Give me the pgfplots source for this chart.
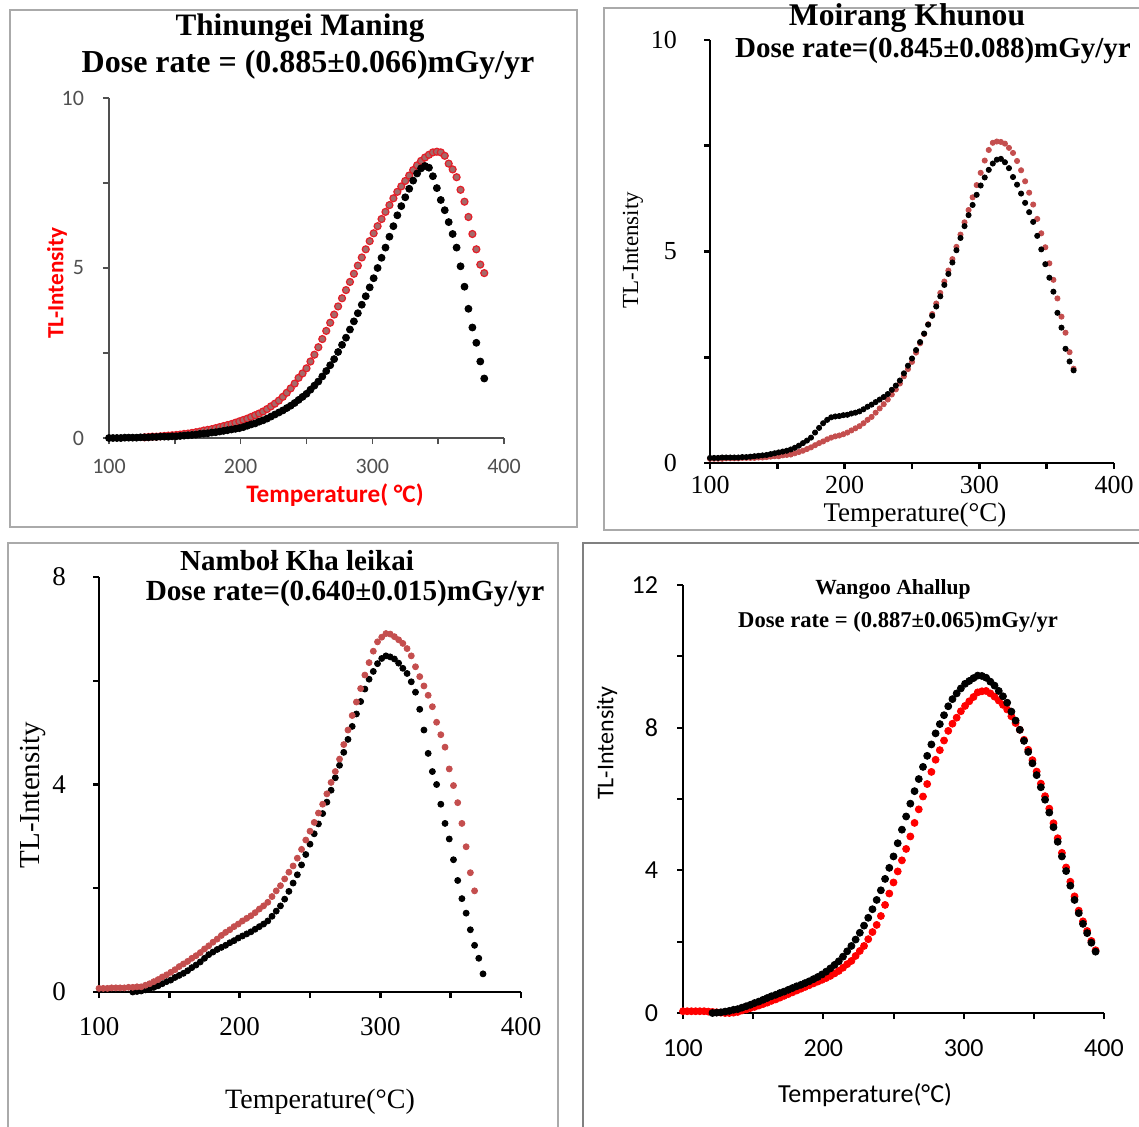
\documentclass[border=0pt]{standalone}
\usepackage{fontspec}
\setmainfont{Liberation Serif}
\newfontfamily\calib{Carlito}
\usepackage{pgfplots}
\usepackage{pgfplotstable}
\pgfplotsset{compat=1.18}

\definecolor{tlred}{RGB}{196,78,78}
\definecolor{ringred}{RGB}{228,30,40}
\definecolor{ringfill}{RGB}{165,105,105}
\definecolor{framegray}{RGB}{170,170,170}
\definecolor{ticktxt}{RGB}{80,80,80}

% T  black  red
\pgfplotstableread{
T k r
100 0.00 nan
103 0.00 nan
106 0.00 nan
109 0.00 nan
112 0.01 nan
115 0.01 nan
118 0.01 nan
121 0.01 nan
124 0.02 nan
127 0.02 0.02
130 0.02 0.03
133 0.03 0.04
136 0.03 0.04
139 0.04 0.05
142 0.04 0.06
145 0.04 0.07
148 0.05 0.08
151 0.05 0.09
154 0.06 0.10
157 0.07 0.12
160 0.08 0.13
163 0.09 0.15
166 0.10 0.17
169 0.12 0.19
172 0.13 0.22
175 0.14 0.24
178 0.16 0.26
181 0.17 0.29
184 0.19 0.32
187 0.21 0.35
190 0.23 0.38
193 0.25 0.41
196 0.27 0.45
199 0.29 0.49
202 0.32 0.53
205 0.36 0.57
208 0.40 0.62
211 0.43 0.67
214 0.48 0.72
217 0.52 0.78
220 0.57 0.85
223 0.63 0.93
226 0.69 1.01
229 0.75 1.10
232 0.81 1.21
235 0.88 1.33
238 0.95 1.46
241 1.03 1.60
244 1.12 1.77
247 1.21 1.90
250 1.30 2.05
253 1.42 2.25
256 1.54 2.45
259 1.66 2.67
262 1.81 2.91
265 1.97 3.15
268 2.14 3.39
271 2.32 3.63
274 2.53 3.87
277 2.74 4.11
280 2.95 4.35
283 3.19 4.59
286 3.43 4.83
289 3.67 5.07
292 3.92 5.31
295 4.17 5.55
298 4.43 5.79
301 4.70 6.02
304 5.00 6.23
307 5.30 6.44
310 5.60 6.65
313 5.92 6.85
316 6.23 7.05
319 6.55 7.24
322 6.82 7.40
325 7.08 7.56
328 7.33 7.72
331 7.57 7.88
334 7.78 8.02
337 7.93 8.15
340 8.00 8.25
343 7.95 8.33
346 7.70 8.40
349 7.35 8.42
352 7.00 8.40
355 6.70 8.30
358 6.35 8.07
361 6.00 7.90
364 5.60 7.67
367 5.05 7.30
370 4.45 6.95
373 3.80 6.50
376 3.25 6.00
379 2.80 5.55
382 2.25 5.10
385 1.75 4.85
}\thinungei

\pgfplotstableread{
T k r
100 0.12 0.10
103 0.12 0.10
106 0.12 0.10
109 0.13 0.10
112 0.13 0.11
115 0.13 0.11
118 0.13 0.11
121 0.13 0.11
124 0.14 0.12
127 0.14 0.12
130 0.15 0.12
133 0.16 0.12
136 0.17 0.13
139 0.18 0.13
142 0.19 0.14
145 0.21 0.15
148 0.23 0.16
151 0.25 0.16
154 0.27 0.18
157 0.29 0.19
160 0.32 0.20
163 0.36 0.23
166 0.41 0.26
169 0.47 0.29
172 0.53 0.33
175 0.60 0.37
178 0.72 0.42
181 0.83 0.47
184 0.94 0.51
187 1.02 0.56
190 1.08 0.60
193 1.10 0.63
196 1.11 0.65
199 1.13 0.68
202 1.14 0.72
205 1.17 0.77
208 1.19 0.82
211 1.22 0.87
214 1.27 0.94
217 1.33 1.02
220 1.38 1.09
223 1.44 1.19
226 1.50 1.29
229 1.56 1.39
232 1.63 1.50
235 1.73 1.62
238 1.83 1.74
241 1.95 1.88
244 2.12 2.05
247 2.30 2.22
250 2.47 2.39
253 2.67 2.61
256 2.86 2.83
259 3.06 3.05
262 3.27 3.28
265 3.48 3.52
268 3.70 3.77
271 3.94 4.02
274 4.21 4.29
277 4.47 4.55
280 4.74 4.82
283 5.03 5.11
286 5.32 5.40
289 5.60 5.69
292 5.86 5.98
295 6.10 6.28
298 6.34 6.57
301 6.56 6.86
304 6.75 7.15
307 6.93 7.40
310 7.08 7.57
313 7.17 7.60
316 7.19 7.59
319 7.11 7.55
322 6.97 7.45
325 6.76 7.33
328 6.58 7.14
331 6.37 6.92
334 6.15 6.66
337 5.93 6.39
340 5.70 6.11
343 5.37 5.77
346 5.05 5.43
349 4.70 5.10
352 4.38 4.72
355 4.05 4.33
358 3.55 3.89
361 3.20 3.46
364 2.70 3.08
367 2.40 2.62
370 2.19 2.23
}\moirang

\pgfplotstableread{
T k r
100 nan 0.07
103 nan 0.07
106 nan 0.07
109 nan 0.08
112 nan 0.08
115 nan 0.08
118 nan 0.08
121 nan 0.09
124 0.00 0.09
127 0.01 0.10
130 0.02 0.10
133 0.04 0.13
136 0.06 0.16
139 0.09 0.20
142 0.12 0.24
145 0.16 0.29
148 0.20 0.33
151 0.23 0.38
154 0.28 0.43
157 0.32 0.49
160 0.36 0.54
163 0.41 0.59
166 0.47 0.65
169 0.52 0.70
172 0.58 0.76
175 0.65 0.83
178 0.72 0.89
181 0.77 0.96
184 0.82 1.02
187 0.86 1.09
190 0.90 1.15
193 0.95 1.20
196 0.99 1.26
199 1.04 1.31
202 1.08 1.37
205 1.12 1.42
208 1.16 1.47
211 1.21 1.53
214 1.26 1.60
217 1.31 1.66
220 1.37 1.73
223 1.46 1.84
226 1.56 1.95
229 1.66 2.05
232 1.79 2.18
235 1.94 2.31
238 2.10 2.43
241 2.26 2.58
244 2.45 2.75
247 2.65 2.93
250 2.85 3.10
253 3.05 3.27
256 3.24 3.45
259 3.44 3.62
262 3.66 3.82
265 3.89 4.04
268 4.13 4.25
271 4.37 4.49
274 4.62 4.77
277 4.87 5.05
280 5.12 5.33
283 5.36 5.59
286 5.60 5.85
289 5.84 6.11
292 6.03 6.35
295 6.18 6.57
298 6.33 6.75
301 6.43 6.84
304 6.48 6.91
307 6.46 6.90
310 6.42 6.85
313 6.34 6.79
316 6.24 6.72
319 6.14 6.62
322 5.98 6.48
325 5.78 6.27
328 5.45 6.08
331 5.05 5.90
334 4.60 5.72
337 4.25 5.50
340 4.00 5.20
343 3.62 4.96
346 3.25 4.72
349 2.95 4.30
352 2.55 3.98
355 2.15 3.65
358 1.80 3.25
361 1.52 2.80
364 1.20 2.30
367 0.90 1.95
370 0.65 nan
373 0.35 nan
}\nambol

\pgfplotstableread{
T k r
100 nan 0.05
103 nan 0.05
106 nan 0.05
109 nan 0.05
112 nan 0.05
115 nan 0.05
118 nan 0.04
121 0.00 0.03
124 0.01 0.02
127 0.02 0.01
130 0.04 0.00
133 0.06 0.00
136 0.09 0.01
139 0.11 0.03
142 0.15 0.07
145 0.19 0.10
148 0.23 0.14
151 0.28 0.17
154 0.32 0.21
157 0.37 0.25
160 0.42 0.29
163 0.47 0.34
166 0.51 0.38
169 0.56 0.43
172 0.60 0.48
175 0.65 0.53
178 0.70 0.58
181 0.75 0.63
184 0.79 0.68
187 0.84 0.73
190 0.89 0.78
193 0.95 0.83
196 1.01 0.88
199 1.08 0.93
202 1.16 0.98
205 1.25 1.04
208 1.35 1.11
211 1.45 1.18
214 1.58 1.27
217 1.73 1.37
220 1.88 1.46
223 2.06 1.60
226 2.25 1.74
229 2.45 1.88
232 2.67 2.07
235 2.91 2.27
238 3.17 2.47
241 3.44 2.72
244 3.76 3.03
247 4.07 3.35
250 4.39 3.66
253 4.76 3.97
256 5.14 4.28
259 5.51 4.60
262 5.87 4.95
265 6.22 5.33
268 6.56 5.71
271 6.90 6.07
274 7.21 6.42
277 7.53 6.76
280 7.84 7.10
283 8.10 7.37
286 8.35 7.64
289 8.60 7.91
292 8.80 8.11
295 8.96 8.28
298 9.10 8.46
301 9.23 8.61
304 9.31 8.74
307 9.39 8.86
310 9.46 8.99
313 9.45 9.02
316 9.40 9.03
319 9.29 8.96
322 9.18 8.87
325 9.03 8.76
328 8.88 8.64
331 8.70 8.51
334 8.45 8.32
337 8.20 8.13
340 7.94 7.94
343 7.63 7.66
346 7.32 7.38
349 7.00 7.09
352 6.67 6.77
355 6.33 6.43
358 5.98 6.08
361 5.62 5.73
364 5.21 5.32
367 4.80 4.90
370 4.39 4.49
373 3.98 4.08
376 3.57 3.68
379 3.17 3.27
382 2.80 2.87
385 2.50 2.57
388 2.24 2.30
391 1.97 2.02
394 1.72 1.76
}\wangoo

\pgfplotsset{
  tlbase/.style={
    scale only axis, axis lines=left, axis line style={-}, tick align=outside,
    clip=false, xmin=100, xmax=400, ymin=0,
    xtick={100,150,...,400}, xticklabels={100,,200,,300,,400},
    major tick length=3pt,
  },
}

\begin{document}
\begin{tikzpicture}
\clip (0,0) rectangle (569.5pt,563pt);
\path[use as bounding box] (0,0) rectangle (569.5pt,563pt);

% panel frames
\draw[framegray, line width=0.8pt] (5pt,558pt) rectangle (288.5pt,299.5pt);
\draw[framegray, line width=0.8pt] (302pt,559pt) rectangle (575pt,298pt);
\draw[framegray, line width=0.8pt] (4pt,291.5pt) rectangle (279pt,-5pt);
\draw[gray, line width=1pt] (291.5pt,291.5pt) rectangle (575pt,-5pt);

% Thinungei Maning
\begin{axis}[tlbase, at={(54.5pt,344pt)}, anchor=south west,
  width=197.5pt, height=170pt, ymax=10,
  ytick={0,2.5,...,10}, yticklabels={0,,5,,10},
  axis line style={draw=ticktxt, line width=0.7pt},
  every tick/.style={draw=ticktxt, line width=0.7pt},
  ticklabel style={font=\calib\fontsize{11}{11}\selectfont, text=ticktxt},
  yticklabel style={xshift=-6pt}, xticklabel style={yshift=-4pt}]
\addplot[only marks, mark=*, mark size=1.75pt, mark options={draw=ringred, fill=ringfill, line width=0.6pt}] table[x=T, y=r] {\thinungei};
\addplot[only marks, mark=*, mark size=1.75pt, black] table[x=T, y=k] {\thinungei};
\end{axis}
\node[font=\bfseries\fontsize{15.6}{16}\selectfont] at (150pt,549pt) {Thinungei Maning};
\node[font=\bfseries\fontsize{16}{16}\selectfont] at (154pt,530.5pt) {Dose rate = (0.885±0.066)mGy/yr};
\node[rotate=90, text=red, font=\calib\bfseries\fontsize{11.6}{12}\selectfont] at (28.5pt,421.5pt) {TL-Intensity};
\node[text=red, font=\calib\bfseries\fontsize{12.6}{13}\selectfont] at (167.5pt,315.5pt) {Temperature( °C)};

% Moirang Khunou
\begin{axis}[tlbase, at={(355pt,331.5pt)}, anchor=south west,
  width=202pt, height=211.5pt, ymax=10,
  ytick={0,2.5,...,10}, yticklabels={0,,5,,10},
  axis line style={line width=1.4pt},
  every tick/.style={line width=1.4pt},
  ticklabel style={font=\fontsize{13}{13}\selectfont},
  yticklabel style={xshift=-10pt}, xticklabel style={yshift=0pt}]
\addplot[only marks, mark=*, mark size=1.3pt, tlred] table[x=T, y=r] {\moirang};
\addplot[only marks, mark=*, mark size=1.3pt, black] table[x=T, y=k] {\moirang};
\end{axis}
\node[font=\bfseries\fontsize{15.8}{16}\selectfont] at (453.5pt,554pt) {Moirang Khunou};
\node[font=\bfseries\fontsize{14.5}{15}\selectfont] at (466.5pt,537.5pt) {Dose rate=(0.845±0.088)mGy/yr};
\node[rotate=90, font=\fontsize{11.5}{12}\selectfont] at (316.5pt,438pt) {TL-Intensity};
\node[font=\fontsize{13.5}{14}\selectfont] at (457.5pt,305.5pt) {Temperature(°C)};

% Nambol Kha leikai
\begin{axis}[tlbase, at={(49.5pt,67pt)}, anchor=south west,
  width=211pt, height=207.5pt, ymax=8,
  ytick={0,2,...,8}, yticklabels={0,,4,,8},
  axis line style={line width=1.2pt},
  every tick/.style={line width=1.2pt},
  ticklabel style={font=\fontsize{13.5}{14}\selectfont},
  yticklabel style={xshift=-10pt}, xticklabel style={yshift=-6pt}]
\addplot[only marks, mark=*, mark size=1.5pt, black] table[x=T, y=k] {\nambol};
\addplot[only marks, mark=*, mark size=1.5pt, tlred] table[x=T, y=r] {\nambol};
\end{axis}
\node[font=\bfseries\fontsize{14.5}{15}\selectfont] at (148.5pt,282.5pt) {Namboł Kha leikai};
\node[font=\bfseries\fontsize{14.6}{15}\selectfont] at (172.5pt,266pt) {Dose rate=(0.640±0.015)mGy/yr};
\node[rotate=90, font=\fontsize{14.5}{15}\selectfont] at (16.5pt,165.5pt) {TL-Intensity};
\node[font=\fontsize{14}{14}\selectfont] at (160pt,12pt) {Temperature(°C)};

% Wangoo Ahallup
\begin{axis}[tlbase, at={(341.5pt,56.5pt)}, anchor=south west,
  width=210.5pt, height=214pt, ymax=12,
  ytick={0,2,...,12}, yticklabels={0,,4,,8,,12},
  axis line style={line width=1pt},
  every tick/.style={line width=1pt},
  ticklabel style={font=\calib\fontsize{13}{13}\selectfont},
  yticklabel style={xshift=-6pt}, xticklabel style={yshift=-7pt}]
\addplot[only marks, mark=*, mark size=1.75pt, red] table[x=T, y=r] {\wangoo};
\addplot[only marks, mark=*, mark size=1.75pt, black] table[x=T, y=k] {\wangoo};
\end{axis}
\node[font=\bfseries\fontsize{10.8}{11}\selectfont] at (446.5pt,268.5pt) {Wangoo Ahallup};
\node[font=\bfseries\fontsize{11.3}{12}\selectfont] at (449pt,252pt) {Dose rate = (0.887±0.065)mGy/yr};
\node[rotate=90, font=\calib\fontsize{12}{12}\selectfont] at (303.5pt,191.5pt) {TL-Intensity};
\node[font=\calib\fontsize{13}{13}\selectfont] at (432.5pt,15.5pt) {Temperature(°C)};
\end{tikzpicture}
\end{document}
